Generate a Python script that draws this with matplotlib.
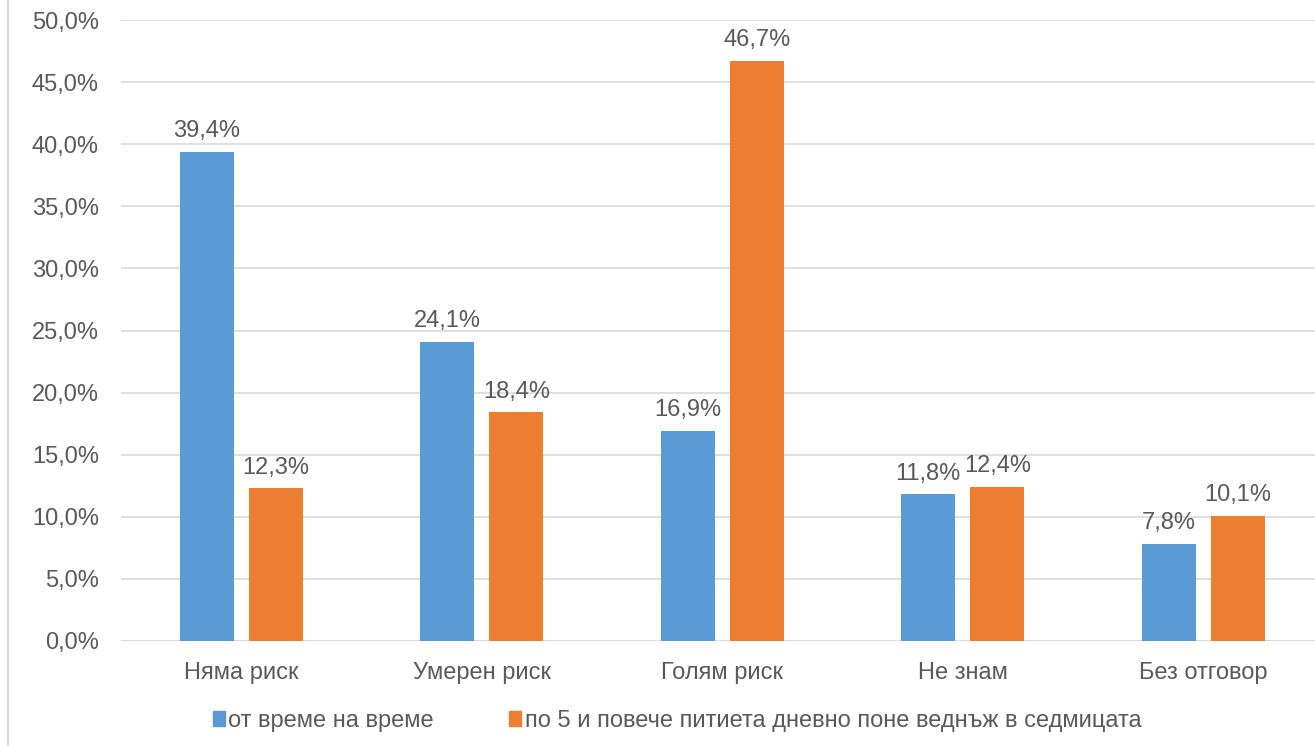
import matplotlib
matplotlib.use("Agg")
import matplotlib.pyplot as plt
from matplotlib.patches import Rectangle
from matplotlib.lines import Line2D
import numpy as np

plt.rcParams['font.family'] = ['Liberation Sans', 'DejaVu Sans']

categories = ["Няма риск", "Умерен риск", "Голям риск", "Не знам", "Без отговор"]
series_names = ["от време на време", "по 5 и повече питиета дневно поне веднъж в седмицата"]
blue_vals = [39.4, 24.1, 16.9, 11.8, 7.8]
orange_vals = [12.3, 18.4, 46.7, 12.4, 10.1]
yticks = [0, 5, 10, 15, 20, 25, 30, 35, 40, 45, 50]

BLUE = "#5B9BD5"
ORANGE = "#ED7D31"
TXT = "#595959"
GRID = "#D9D9D9"
FS = 17

W, H = 1315, 746
fig = plt.figure(figsize=(W / 100, H / 100), dpi=100)
ax = fig.add_axes([121 / W, (H - 641) / H, (W - 121) / W, (641 - 20) / H])

x = np.arange(len(categories))
bw = 0.2245
off = 0.1435
b1 = ax.bar(x - off, blue_vals, bw, color=BLUE, zorder=3)
b2 = ax.bar(x + off, orange_vals, bw, color=ORANGE, zorder=3)

def fmt(v):
    return f"{v:.1f}".replace(".", ",") + "%"

for rect, v in zip(b1, blue_vals):
    ax.annotate(fmt(v), (rect.get_x() + rect.get_width() / 2, v), xytext=(0, 7),
                textcoords="offset points", ha="center", va="bottom", fontsize=FS, color=TXT)
for rect, v in zip(b2, orange_vals):
    ax.annotate(fmt(v), (rect.get_x() + rect.get_width() / 2, v), xytext=(0, 7),
                textcoords="offset points", ha="center", va="bottom", fontsize=FS, color=TXT)

ax.set_xlim(-0.5, -0.5 + (W - 121) / 240.5)
ax.set_ylim(0, 50)
ax.set_yticks(yticks)
ax.set_yticklabels([fmt(t) for t in yticks], fontsize=FS, color=TXT)
ax.set_xticks(x)
ax.set_xticklabels(categories, fontsize=FS, color=TXT)
ax.tick_params(axis='both', length=0)
ax.tick_params(axis='y', pad=16)
ax.tick_params(axis='x', pad=15)
ax.grid(axis='y', color=GRID, linewidth=1.2, zorder=0)
for s in ax.spines.values():
    s.set_visible(False)
ax.axhline(0, color=GRID, linewidth=1.5, zorder=2)

# left border line of chart area
fig.add_artist(Line2D([7.5 / W, 7.5 / W], [0, 1], color=GRID, linewidth=1.5, transform=fig.transFigure))

handles = [Rectangle((0, 0), 1, 1, color=BLUE), Rectangle((0, 0), 1, 1, color=ORANGE)]
leg = fig.legend(handles, series_names, loc="center", bbox_to_anchor=(677 / W, 1 - 721 / H),
                 ncol=2, frameon=False, fontsize=FS, handlelength=0.5, handleheight=0.6,
                 handletextpad=0.15, columnspacing=3.2)
for t in leg.get_texts():
    t.set_color(TXT)

fig.savefig("out.png", dpi=100)
